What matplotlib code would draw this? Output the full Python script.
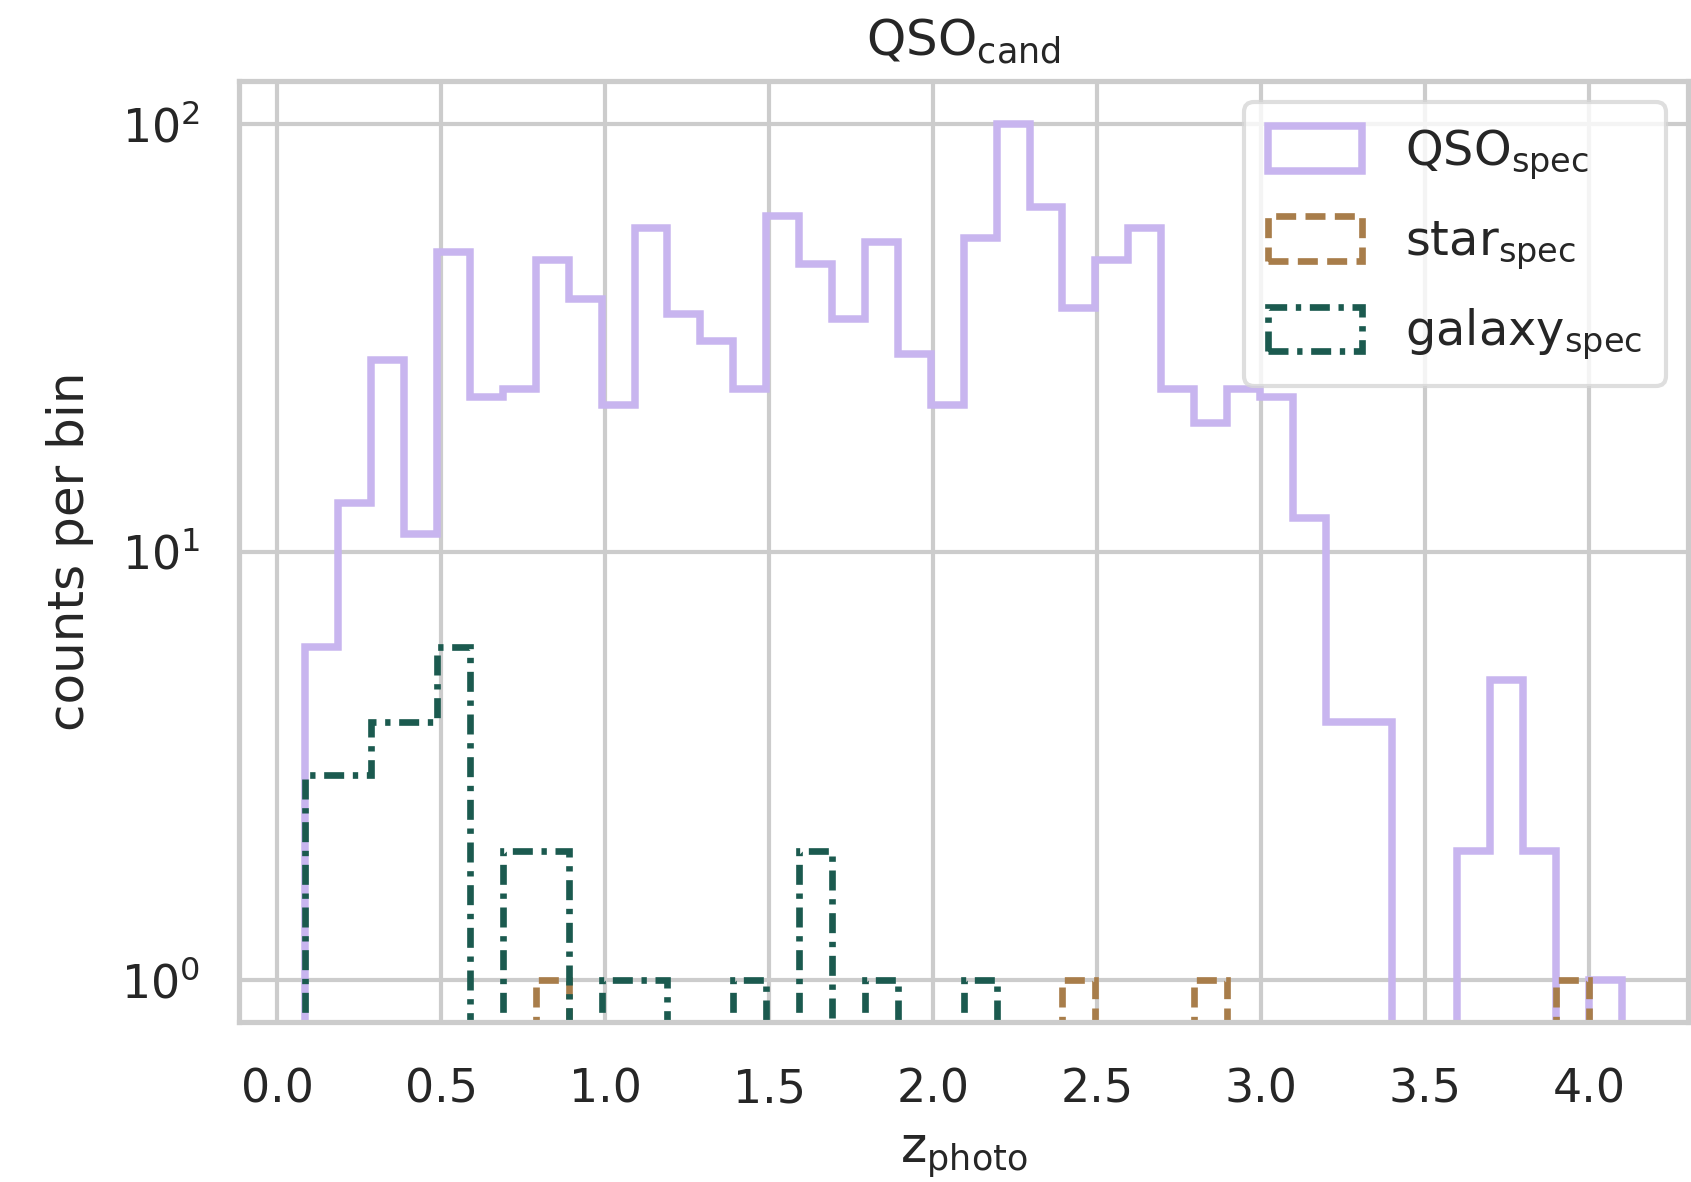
import numpy as np
import matplotlib
matplotlib.use("Agg")
import matplotlib.pyplot as plt
import seaborn as sns

# ---- data (counts per bin, 40 equal bins between bin_lo and bin_hi) ----
bin_lo = 0.085
bin_hi = 4.1
n_bins = 40

qso_counts = [6, 13, 28, 11, 50, 23, 24, 48, 39, 22,
              57, 36, 31, 24, 61, 47, 35, 53, 29, 22,
              54, 100, 64, 37, 48, 57, 24, 20, 24, 23,
              12, 4, 4, 0, 0, 2, 5, 2, 0, 1]
star_counts = [0, 0, 0, 0, 0, 0, 0, 1, 0, 0,
               0, 0, 0, 0, 0, 0, 0, 0, 0, 0,
               0, 0, 0, 1, 0, 0, 0, 1, 0, 0,
               0, 0, 0, 0, 0, 0, 0, 0, 1, 0]
galaxy_counts = [3, 3, 4, 4, 6, 0, 2, 2, 0, 1,
                 1, 0, 0, 1, 0, 2, 0, 1, 0, 0,
                 1, 0, 0, 0, 0, 0, 0, 0, 0, 0,
                 0, 0, 0, 0, 0, 0, 0, 0, 0, 0]

labels = [r"QSO$_{\mathrm{spec}}$", r"star$_{\mathrm{spec}}$", r"galaxy$_{\mathrm{spec}}$"]
title = r"QSO$_{\mathrm{cand}}$"
xlabel = r"z$_{\mathrm{photo}}$"
ylabel = "counts per bin"

# ---- style ----
sns.set_theme(style="whitegrid")
plt.rcParams["font.family"] = ["DejaVu Sans"]
plt.rcParams["mathtext.fontset"] = "dejavusans"
plt.rcParams["xtick.labelsize"] = 11
plt.rcParams["ytick.labelsize"] = 11
plt.rcParams["axes.labelsize"] = 12
plt.rcParams["axes.titlesize"] = 12
plt.rcParams["legend.fontsize"] = 11.5

edges = np.linspace(bin_lo, bin_hi, n_bins + 1)
centers = 0.5 * (edges[:-1] + edges[1:])

fig = plt.figure(figsize=(1691 / 300, 1182 / 300), dpi=300)
ax = fig.add_axes([0.1416, 0.135, 0.998 - 0.1416, 0.9316 - 0.135])

colors = ["#c8b5ef", "#a87d4a", "#1b5a4f"]
styles = ["-", (0, (3, 1.4)), (0, (3, 1.3, 0.8, 1.3))]
lws = [1.8, 1.6, 1.6]

for counts, lab, col, ls, lw in zip([qso_counts, star_counts, galaxy_counts],
                                    labels, colors, styles, lws):
    ax.hist(centers, bins=edges, weights=counts, histtype="step", log=True,
            color=col, linestyle=ls, linewidth=lw, label=lab)

ax.set_xlim(-0.116, 4.30)
ax.set_ylim(10 ** -0.1, 10 ** 2.1)
ax.set_xticks(np.arange(0, 4.01, 0.5))
ax.set_xticklabels([f"{v:.1f}" for v in np.arange(0, 4.01, 0.5)])
ax.grid(True, which="major", color="#cccccc")
ax.grid(False, which="minor")
ax.tick_params(which="minor", length=0)
ax.tick_params(axis="x", pad=4.8)

ax.set_title(title)
ax.set_xlabel(xlabel, labelpad=4.8)
ax.set_ylabel(ylabel, labelpad=6.5)
leg = ax.legend(loc="upper right", handlelength=1.95, handleheight=1.05,
                labelspacing=0.72, handletextpad=0.9, borderpad=0.5,
                borderaxespad=0.45)
leg.get_frame().set_edgecolor("#d6d6d6")

fig.savefig("out.png", dpi=300)
